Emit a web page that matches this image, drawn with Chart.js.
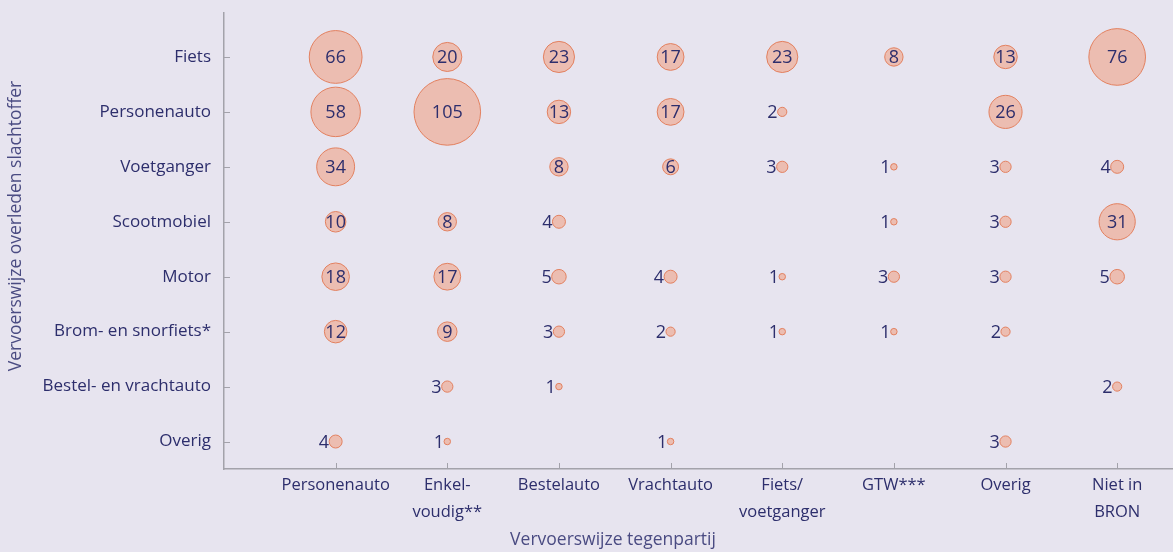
<!DOCTYPE html>
<html>
<head>
<meta charset="utf-8">
<script src="https://cdn.jsdelivr.net/npm/chart.js@4"></script>
<style>
  html, body { margin: 0; padding: 0; background: #e7e4ef; }
  #wrap { width: 1173px; height: 552px; }
</style>
</head>
<body>
<div id="wrap"><canvas id="bubbleChart"></canvas></div>
<script>
// tegenpartij (x) en slachtoffer (y)
const xLabels = [["Personenauto"], ["Enkel-", "voudig**"], ["Bestelauto"], ["Vrachtauto"],
                 ["Fiets/", "voetganger"], ["GTW***"], ["Overig"], ["Niet in", "BRON"]];
const yLabels = ["Fiets", "Personenauto", "Voetganger", "Scootmobiel", "Motor",
                 "Brom- en snorfiets*", "Bestel- en vrachtauto", "Overig"];

// one row per slachtoffer, one value per tegenpartij (null = geen)
const fiets        = [66, 20, 23, 17, 23, 8, 13, 76];
const personenauto = [58, 105, 13, 17, 2, null, 26, null];
const voetganger   = [34, null, 8, 6, 3, 1, 3, 4];
const scootmobiel  = [10, 8, 4, null, null, 1, 3, 31];
const motor        = [18, 17, 5, 4, 1, 3, 3, 5];
const bromSnor     = [12, 9, 3, 2, 1, 1, 2, null];
const bestelVracht = [null, 3, 1, null, null, null, null, 2];
const overig       = [4, 1, null, 1, null, null, 3, null];

const rows = [fiets, personenauto, voetganger, scootmobiel, motor, bromSnor, bestelVracht, overig];

const points = [];
rows.forEach((row, r) => {
    row.forEach((v, c) => {
        if (v !== null) points.push({ x: c + 1, y: yLabels.length - r, v: v });
    });
});

const textColor = "#2d2e6c";
const axisColor = "#a3a2aa";
const fontFamily = "'Open Sans', 'Noto Sans', sans-serif";

const labelPlugin = {
    id: "bubbleLabels",
    afterDatasetsDraw(chart) {
        const ctx = chart.ctx;
        const meta = chart.getDatasetMeta(0);
        ctx.save();
        ctx.fillStyle = textColor;
        ctx.font = "18px " + fontFamily;
        ctx.textBaseline = "middle";
        meta.data.forEach((el, i) => {
            const p = points[i];
            const r = el.options.radius;
            if (p.v >= 6) {
                ctx.textAlign = "center";
                ctx.fillText(String(p.v), el.x, el.y + 1);
            } else {
                ctx.textAlign = "right";
                ctx.fillText(String(p.v), el.x - r, el.y + 1);
            }
        });
        ctx.restore();
    }
};

const axesPlugin = {
    id: "innerTicks",
    afterDraw(chart) {
        const ctx = chart.ctx;
        const xs = chart.scales.x, ys = chart.scales.y;
        const area = chart.chartArea;
        ctx.save();
        ctx.strokeStyle = axisColor;
        ctx.lineWidth = 1;
        ctx.beginPath();
        for (let i = 1; i <= xLabels.length; i++) {
            const px = Math.round(xs.getPixelForValue(i)) + 0.5;
            ctx.moveTo(px, area.bottom);
            ctx.lineTo(px, area.bottom - 6);
        }
        for (let i = 1; i <= yLabels.length; i++) {
            const py = Math.round(ys.getPixelForValue(i)) + 0.5;
            ctx.moveTo(area.left, py);
            ctx.lineTo(area.left + 6, py);
        }
        ctx.stroke();

        // axis titles
        ctx.fillStyle = "#4a4b82";
        ctx.font = "17.5px " + fontFamily;
        ctx.textAlign = "center";
        ctx.textBaseline = "middle";
        ctx.fillText("Vervoerswijze tegenpartij", 613, 540);
        ctx.translate(16, 226);
        ctx.rotate(-Math.PI / 2);
        ctx.fillText("Vervoerswijze overleden slachtoffer", 0, 0);
        ctx.restore();
    }
};

new Chart(document.getElementById("bubbleChart"), {
    type: "bubble",
    data: {
        datasets: [{
            data: points,
            backgroundColor: "#ecbdb1",
            borderColor: "#e2805f",
            borderWidth: 1,
            hoverRadius: 0,
            clip: false,
            radius: (c) => c.raw ? 3.25 * Math.sqrt(c.raw.v) : 0
        }]
    },
    options: {
        responsive: true,
        maintainAspectRatio: false,
        animation: false,
        layout: { autoPadding: false, padding: { top: 13, right: 0, left: 0, bottom: 0 } },
        plugins: {
            legend: { display: false },
            tooltip: { enabled: false }
        },
        scales: {
            x: {
                type: "linear",
                min: 0,
                max: 8.5,
                afterBuildTicks: (s) => { s.ticks = xLabels.map((_, i) => ({ value: i + 1 })); },
                afterFit: (s) => { s.height = 83; s.paddingLeft = 0; s.paddingRight = 0; },
                grid: { display: false, drawTicks: false },
                border: { display: true, color: axisColor, width: 1.5 },
                ticks: {
                    autoSkip: false,
                    maxRotation: 0,
                    padding: 3,
                    color: textColor,
                    font: { family: fontFamily, size: 16.5, lineHeight: 1.62 },
                    callback: (v) => xLabels[v - 1] || ""
                }
            },
            y: {
                type: "linear",
                min: 0.5,
                max: 8.8,
                afterBuildTicks: (s) => { s.ticks = yLabels.map((_, i) => ({ value: i + 1 })); },
                afterFit: (s) => { s.width = 224; s.paddingTop = 0; s.paddingBottom = 0; },
                grid: { display: false, drawTicks: false },
                border: { display: true, color: axisColor, width: 1.5 },
                ticks: {
                    autoSkip: false,
                    padding: 13,
                    color: textColor,
                    font: { family: fontFamily, size: 17 },
                    callback: (v) => yLabels[yLabels.length - v] || ""
                }
            }
        }
    },
    plugins: [labelPlugin, axesPlugin]
});
</script>
</body>
</html>
